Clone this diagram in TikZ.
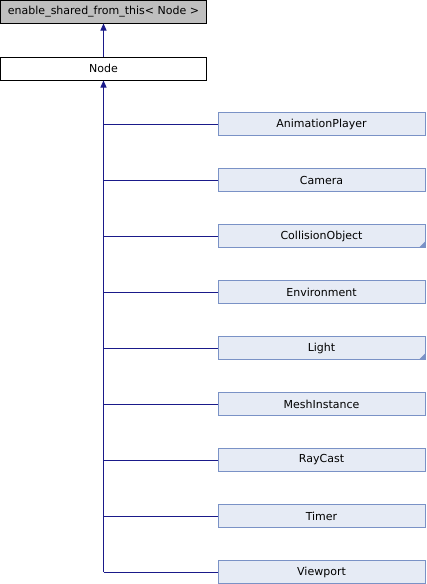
\documentclass[tikz,border=0pt]{standalone}
\usepackage{fontspec}
\setmainfont{DejaVu Sans}
\usetikzlibrary{arrows.meta}
\definecolor{edgeblue}{HTML}{1A1A8A}
\definecolor{childfill}{HTML}{E6EBF5}
\definecolor{childborder}{HTML}{7A92C6}
\definecolor{basefill}{HTML}{BFBFBF}
\tikzset{
  box/.style={draw, line width=1pt, minimum height=23pt, inner sep=0pt, font=\fontsize{11}{13}\selectfont, anchor=center},
  basebox/.style={box, fill=basefill, draw=black, minimum width=206pt},
  nodebox/.style={box, fill=white, draw=black, minimum width=206pt},
  childbox/.style={box, fill=childfill, draw=childborder, minimum width=207pt},
  link/.style={draw=edgeblue, line width=1pt},
  inh/.style={link, -{Triangle[length=7pt,width=6pt]}},
  corner/.style={fill=childborder, draw=none}
}
\begin{document}
\begin{tikzpicture}[x=1pt,y=-1pt]
\useasboundingbox (0,0) rectangle (426,584);
\node[basebox] (base) at (103.5,11.5) {enable\_shared\_from\_this< Node >};
\node[nodebox] (node) at (103.5,68.5) {Node};
\foreach \name/\lab/\yy in {anim/AnimationPlayer/124, cam/Camera/180, coll/CollisionObject/236, env/Environment/292, light/Light/348, mesh/MeshInstance/404, ray/RayCast/460, timer/Timer/516, view/Viewport/572} {
  \node[childbox] (\name) at (321.5,\yy) {\lab};
  \coordinate (j\name) at (node.south |- \name.west);
  \draw[link] (j\name) -- (\name.west);
}
\foreach \name in {coll, light} {
  \fill[corner] (\name.south east) ++(-0.5,-0.5) -- ++(-6,0) -- ++(6,-6) -- cycle;
}
\draw[inh] (node) -- (base);
\draw[inh] (jview) -- (node.south);
\end{tikzpicture}
\end{document}
